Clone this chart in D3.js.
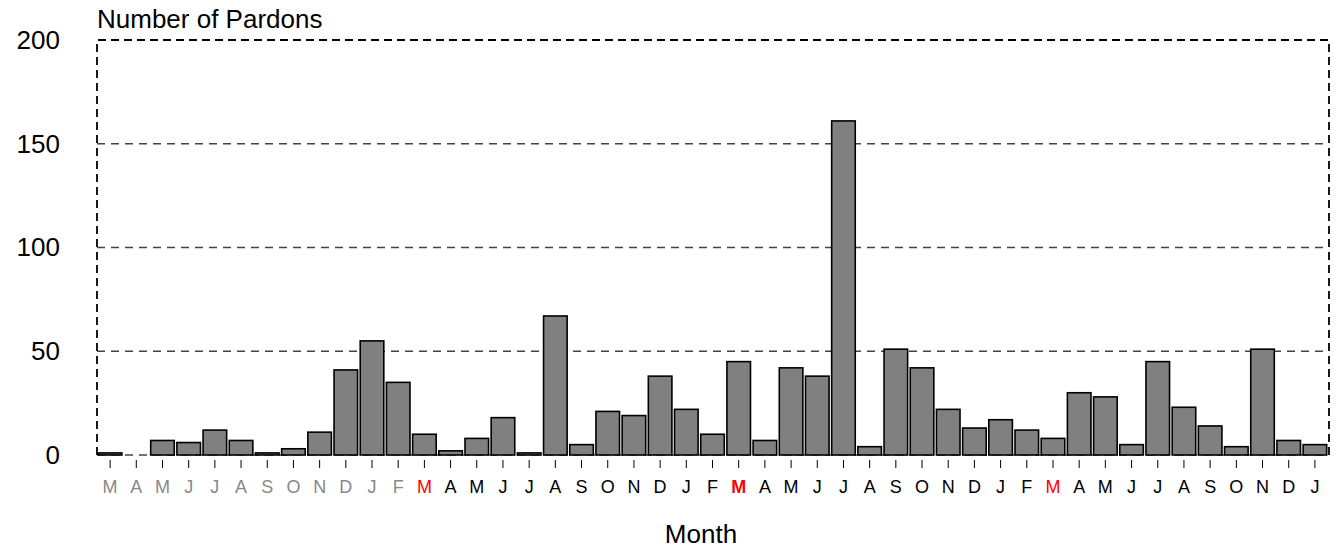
<!DOCTYPE html>
<html>
<head>
<meta charset="utf-8">
<script src="https://cdn.jsdelivr.net/npm/d3@7"></script>
<style>
  html, body { margin: 0; padding: 0; background: #fff; }
  svg { display: block; font-family: "Liberation Sans", Arial, sans-serif; }
</style>
</head>
<body>
<svg id="chart" width="1338" height="560"></svg>
<script>
const months = ["M","A","M","J","J","A","S","O","N","D","J","F",
  "M","A","M","J","J","A","S","O","N","D","J","F",
  "M","A","M","J","J","A","S","O","N","D","J","F",
  "M","A","M","J","J","A","S","O","N","D","J"];
const pardons = [1,0,7,6,12,7,1,3,11,41,55,35,
  10,2,8,18,1,67,5,21,19,38,22,10,
  45,7,42,38,161,4,51,42,22,13,17,12,
  8,30,28,5,45,23,14,4,51,7,5];
const labelColor = ["#888","#888","#888","#888","#888","#888","#888","#888","#888","#888","#888","#888",
  "red","#000","#000","#000","#000","#000","#000","#000","#000","#000","#000","#000",
  "red","#000","#000","#000","#000","#000","#000","#000","#000","#000","#000","#000",
  "red","#000","#000","#000","#000","#000","#000","#000","#000","#000","#000"];
const boldIndex = [24];
const yTicks = [0, 50, 100, 150, 200];

(function () {
const svg = d3.select("#chart");
const pl = 97, pr = 1329, pt = 40, pb = 455;

const x = d3.scaleBand().domain(d3.range(months.length)).range([pl, 1328])
  .paddingInner(0.1).paddingOuter(0.05);
const y = d3.scaleLinear().domain([0, 200]).range([pb, pt]);

// gridlines
svg.append("g").selectAll("line").data(yTicks.filter(d => d < 200)).join("line")
  .attr("x1", pl).attr("x2", pr)
  .attr("y1", d => y(d)).attr("y2", d => y(d))
  .attr("stroke", "#444").attr("stroke-width", 1.3)
  .attr("stroke-dasharray", "8,6");

// bars
svg.append("g").selectAll("rect").data(pardons).join("rect")
  .attr("x", (d, i) => x(i))
  .attr("width", x.bandwidth())
  .attr("y", d => y(d))
  .attr("height", d => y(0) - y(d))
  .attr("fill", "#808080")
  .attr("stroke", "#000")
  .attr("stroke-width", 1.6);

// dashed frame (left, top, right)
svg.append("path")
  .attr("d", `M${pl},${pb}V${pt}H${pr}V${pb}`)
  .attr("fill", "none").attr("stroke", "#000")
  .attr("stroke-width", 1.8).attr("stroke-dasharray", "8,5");

// y axis
const yAxis = svg.append("g").attr("transform", `translate(${pl},0)`)
  .call(d3.axisLeft(y).tickValues(yTicks).tickSize(0).tickPadding(37));
yAxis.select(".domain").remove();
yAxis.selectAll("text").attr("font-size", 26).attr("fill", "#000")
  .attr("font-family", "Liberation Sans, Arial, sans-serif");

// x axis
const xAxis = svg.append("g").attr("transform", `translate(0,460)`)
  .call(d3.axisBottom(x).tickSize(8).tickPadding(12).tickFormat(i => months[i]));
xAxis.select(".domain").remove();
xAxis.selectAll("line").attr("stroke", "#000").attr("stroke-width", 1);
xAxis.selectAll("text")
  .attr("font-size", 18)
  .attr("font-family", "Liberation Sans, Arial, sans-serif")
  .attr("fill", i => labelColor[i])
  .attr("font-weight", i => boldIndex.includes(i) ? "bold" : "normal");

// titles
svg.append("text").attr("x", pl).attr("y", 28)
  .attr("font-size", 26).text("Number of Pardons");
svg.append("text").attr("x", 701).attr("y", 543)
  .attr("text-anchor", "middle").attr("font-size", 26).text("Month");
})();
</script>
</body>
</html>
